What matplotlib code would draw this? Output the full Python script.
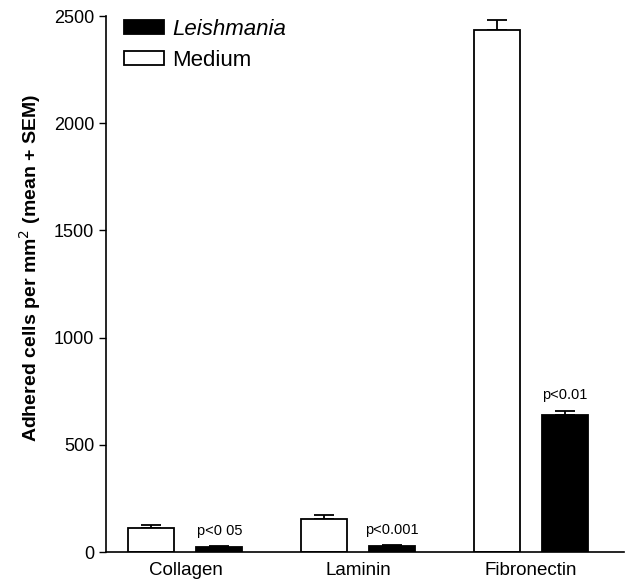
import matplotlib
matplotlib.use("Agg")
import matplotlib.pyplot as plt
import numpy as np

plt.rcParams['font.family'] = ['Liberation Sans', 'DejaVu Sans']

categories = ["Collagen", "Laminin", "Fibronectin"]
medium_mean = [112, 154, 2434]
medium_sem = [14, 19, 47]
leish_mean = [23, 28, 641]
leish_sem = [3, 3, 19]
p_labels = ["p<0 05", "p<0.001", "p<0.01"]
yticks = [0, 500, 1000, 1500, 2000, 2500]

fig = plt.figure(figsize=(6.31, 5.87), dpi=100)
ax = fig.add_axes([0.168, 0.0596, 0.821, 0.913])

x = np.arange(len(categories))
w = 0.266
off = 0.197
ax.bar(x - off, medium_mean, w, color='white', edgecolor='black', linewidth=1.3,
       label='Medium', zorder=2)
ax.bar(x + off, leish_mean, w, color='black', edgecolor='black', linewidth=1.3,
       label='Leishmania', zorder=2)
ax.errorbar(x - off, medium_mean, yerr=[np.zeros(3), medium_sem], fmt='none',
            ecolor='black', elinewidth=1.3, capsize=7, capthick=1.3, zorder=1)
ax.errorbar(x + off, leish_mean, yerr=[np.zeros(3), leish_sem], fmt='none',
            ecolor='black', elinewidth=1.3, capsize=7, capthick=1.3, zorder=1)

for xi, m, s, p in zip(x + off, leish_mean, leish_sem, p_labels):
    ax.text(xi, m + s + 40, p, ha='center', va='bottom', fontsize=10.5)

ax.set_xlim(-0.46, 2.54)
ax.set_ylim(0, 2500)
ax.set_yticks(yticks)
ax.set_xticks(x)
ax.set_xticklabels(categories, fontsize=13.5)
ax.tick_params(axis='y', labelsize=13, length=5, width=1, direction='out')
ax.tick_params(axis='x', length=0, pad=7)
for sp in ['top', 'right']:
    ax.spines[sp].set_visible(False)
for sp in ['left', 'bottom']:
    ax.spines[sp].set_linewidth(1.2)

ax.set_ylabel("Adhered cells per mm$^2$ (mean + SEM)", fontsize=14,
              fontweight='bold')
ax.yaxis.set_label_coords(-0.122, 0.53)

handles, labels = ax.get_legend_handles_labels()
leg = ax.legend(handles[::-1], labels[::-1], loc='upper left',
                bbox_to_anchor=(0.018, 1.012), frameon=False, fontsize=16,
                handlelength=1.8, handleheight=0.6, handletextpad=0.35,
                labelspacing=0.45, borderaxespad=0)
for t in leg.get_texts():
    if t.get_text() == 'Leishmania':
        t.set_fontstyle('italic')

fig.savefig("out.png", dpi=100)
